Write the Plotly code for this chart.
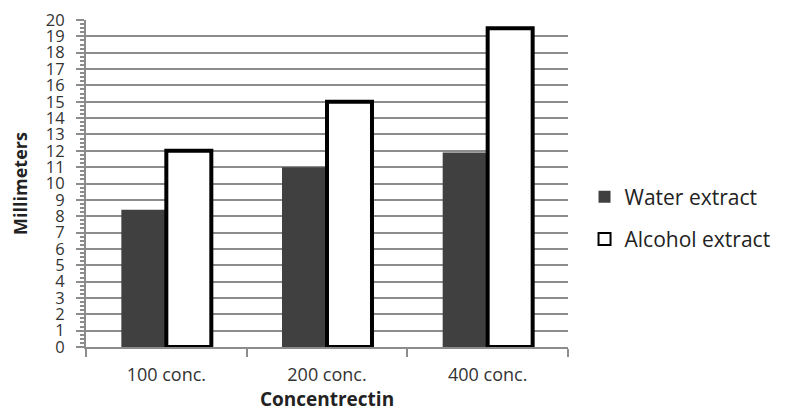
import plotly.graph_objects as go

categories = ["100 conc.", "200 conc.", "400 conc."]
water = [8.4, 11.0, 11.9]
alcohol = [12.0, 15.0, 19.5]
y_ticks = list(range(0, 21))

fig = go.Figure()
fig.add_trace(go.Bar(x=categories, y=water, name="Water extract", legendgroup="w",
                     marker=dict(color="#404040", line=dict(width=0))))
fig.add_trace(go.Bar(x=categories, y=alcohol, name="Alcohol extract", legendgroup="a",
                     marker=dict(color="white", line=dict(color="black", width=4))))

font = "Open Sans, Noto Sans, sans-serif"
fig.update_layout(
    width=777, height=404,
    margin=dict(l=78, r=217, t=12, b=65, autoexpand=False),
    paper_bgcolor="white", plot_bgcolor="white",
    barmode="group", bargap=0.44, bargroupgap=0,
    font=dict(family=font, color="#222"),
    legend=dict(xref="container", yref="container", x=0.742, y=0.48,
                xanchor="left", yanchor="middle",
                font=dict(size=21, color="#222"), tracegroupgap=12,
                itemsizing="constant"),
    showlegend=True,
)
fig.update_yaxes(
    range=[0, 20], tickvals=y_ticks, ticktext=[str(v) for v in y_ticks],
    automargin=False, ticklabeloverflow="allow",
    showgrid=True, gridcolor="#8c8c8c", gridwidth=1.5,
    showline=True, linecolor="#8c8c8c", linewidth=2,
    ticks="outside", ticklen=8, tickcolor="#8c8c8c", tickwidth=2,
    ticklabelstandoff=8,
    minor=dict(dtick=0.25, ticks="outside", ticklen=4, tickcolor="#8c8c8c", showgrid=False),
    tickfont=dict(size=16.5, color="#333"),
    title=dict(text="<b>Millimeters</b>", font=dict(size=18, color="#222"), standoff=17),
    zeroline=False,
)
fig.update_xaxes(
    automargin=False,
    showline=True, linecolor="#8c8c8c", linewidth=2,
    ticks="outside", tickson="boundaries", ticklen=8, tickcolor="#8c8c8c", tickwidth=2,
    ticklabelstandoff=10,
    tickfont=dict(size=18, color="#333"),
    title=dict(text="<b>Concentrectin</b>", font=dict(size=19, color="#222"), standoff=4),
    showgrid=False,
)
fig.write_html("out.html")
